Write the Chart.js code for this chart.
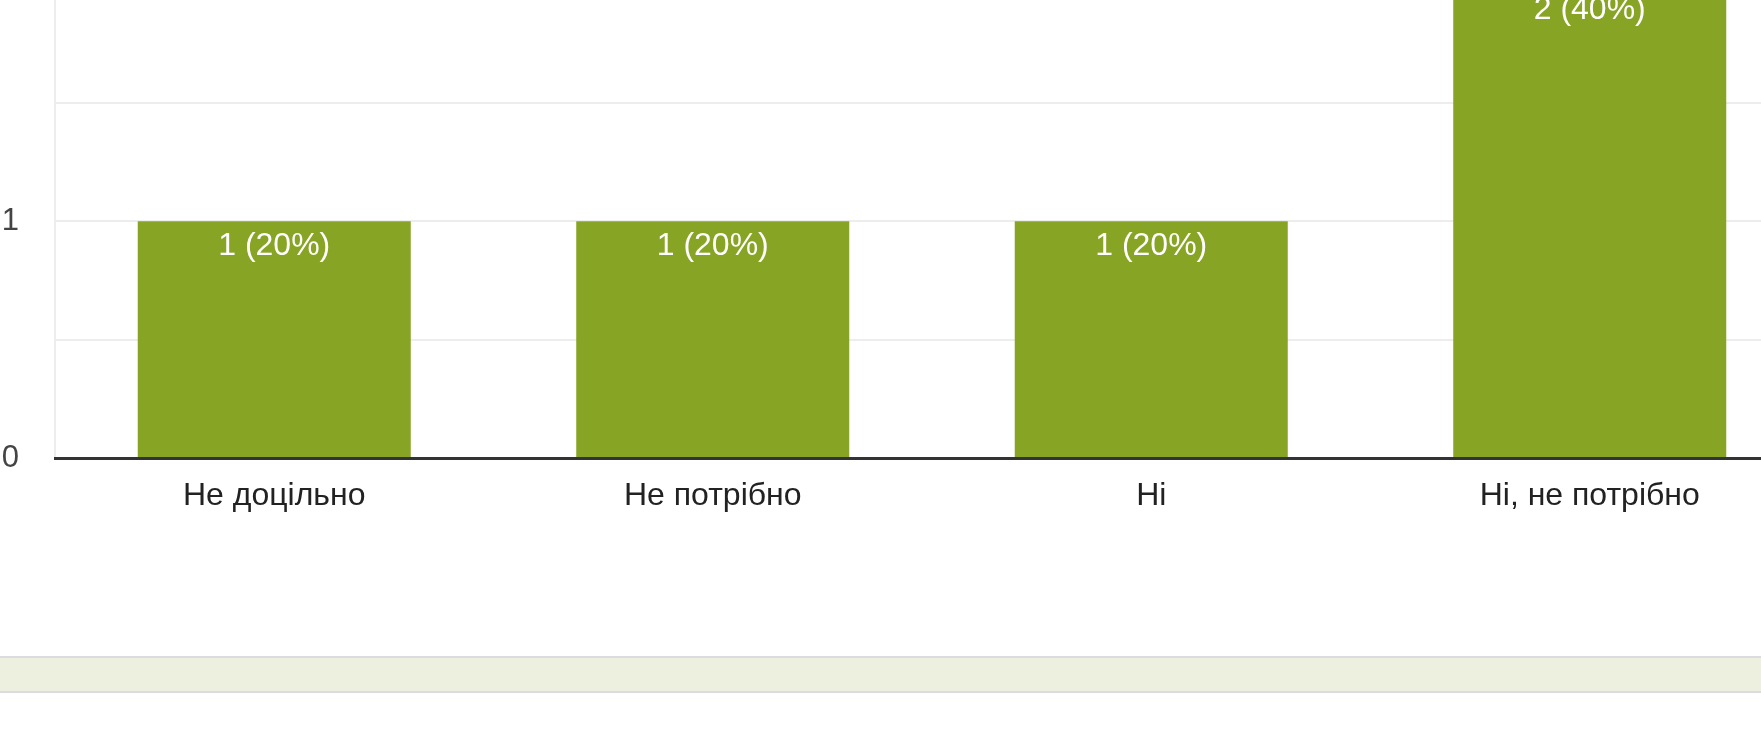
<!DOCTYPE html>
<html>
<head>
<meta charset="UTF-8">
<title>Відповіді</title>
<style>
    html, body {
        margin: 0;
        padding: 0;
        width: 1761px;
        height: 733px;
        overflow: hidden;
        background: #fff;
        font-family: 'Liberation Sans', Arial, sans-serif;
    }
    #chartContainer {
        position: absolute;
        left: 0;
        top: -70px;
        width: 1820px;
        height: 614px;
    }
    .footerBand {
        position: absolute;
        left: 0;
        top: 656px;
        width: 100%;
        height: 33px;
        background: #edf0de;
        border-top: 2px solid #dcdce0;
        border-bottom: 2px solid #dcdce0;
    }
</style>
<script src="https://cdn.jsdelivr.net/npm/chart.js"></script>
</head>
<body>

<div id="chartContainer">
    <canvas id="answersChart"></canvas>
</div>
<div class="footerBand"></div>

<script>
let categories = ['Не доцільно', 'Не потрібно', 'Ні', 'Ні, не потрібно'];
let counts = [1, 1, 1, 2];
let yTickValues = [0, 1, 2];

const total = counts.reduce((a, b) => a + b, 0);
const barLabels = counts.map(c => c + ' (' + Math.round(c / total * 100) + '%)');

// labels inside the top of each bar
const barLabelPlugin = {
    id: 'barLabels',
    afterDatasetsDraw(chart) {
        const ctx = chart.ctx;
        const meta = chart.getDatasetMeta(0);
        ctx.save();
        ctx.font = '32px "Liberation Sans", Arial, sans-serif';
        ctx.fillStyle = '#ffffff';
        ctx.textAlign = 'center';
        ctx.textBaseline = 'alphabetic';
        meta.data.forEach((bar, i) => {
            ctx.fillText(barLabels[i], bar.x, bar.y + 34);
        });
        ctx.restore();
    }
};

const ctx = document.getElementById('answersChart').getContext('2d');
const answersChart = new Chart(ctx, {
    type: 'bar',
    data: {
        labels: categories,
        datasets: [{
            data: counts,
            backgroundColor: '#87a424',
            borderWidth: 0,
            barPercentage: 0.6226,
            categoryPercentage: 1.0
        }]
    },
    options: {
        responsive: true,
        maintainAspectRatio: false,
        animation: false,
        layout: {
            padding: { top: 40, right: 11, bottom: 6, left: 0 }
        },
        plugins: {
            legend: { display: false },
            tooltip: { enabled: false }
        },
        scales: {
            x: {
                grid: { display: false, drawTicks: false },
                border: { display: true, color: '#333333', width: 3, z: 1 },
                ticks: {
                    color: '#222222',
                    font: { family: "'Liberation Sans', Arial, sans-serif", size: 32 },
                    padding: 19,
                    maxRotation: 0,
                    autoSkip: false
                },
                afterFit(scale) { scale.height = 80; }
            },
            y: {
                min: 0,
                max: 2,
                grid: { color: '#ededed', lineWidth: 2, drawTicks: false },
                border: { display: true, color: '#ededed', width: 2 },
                ticks: {
                    stepSize: 0.5,
                    color: '#444444',
                    padding: 36,
                    font: { family: "'Liberation Sans', Arial, sans-serif", size: 31 },
                    callback: v => yTickValues.includes(v) ? String(v) : ''
                },
                afterFit(scale) { scale.width = 55; }
            }
        }
    },
    plugins: [barLabelPlugin]
});
</script>

</body>
</html>
